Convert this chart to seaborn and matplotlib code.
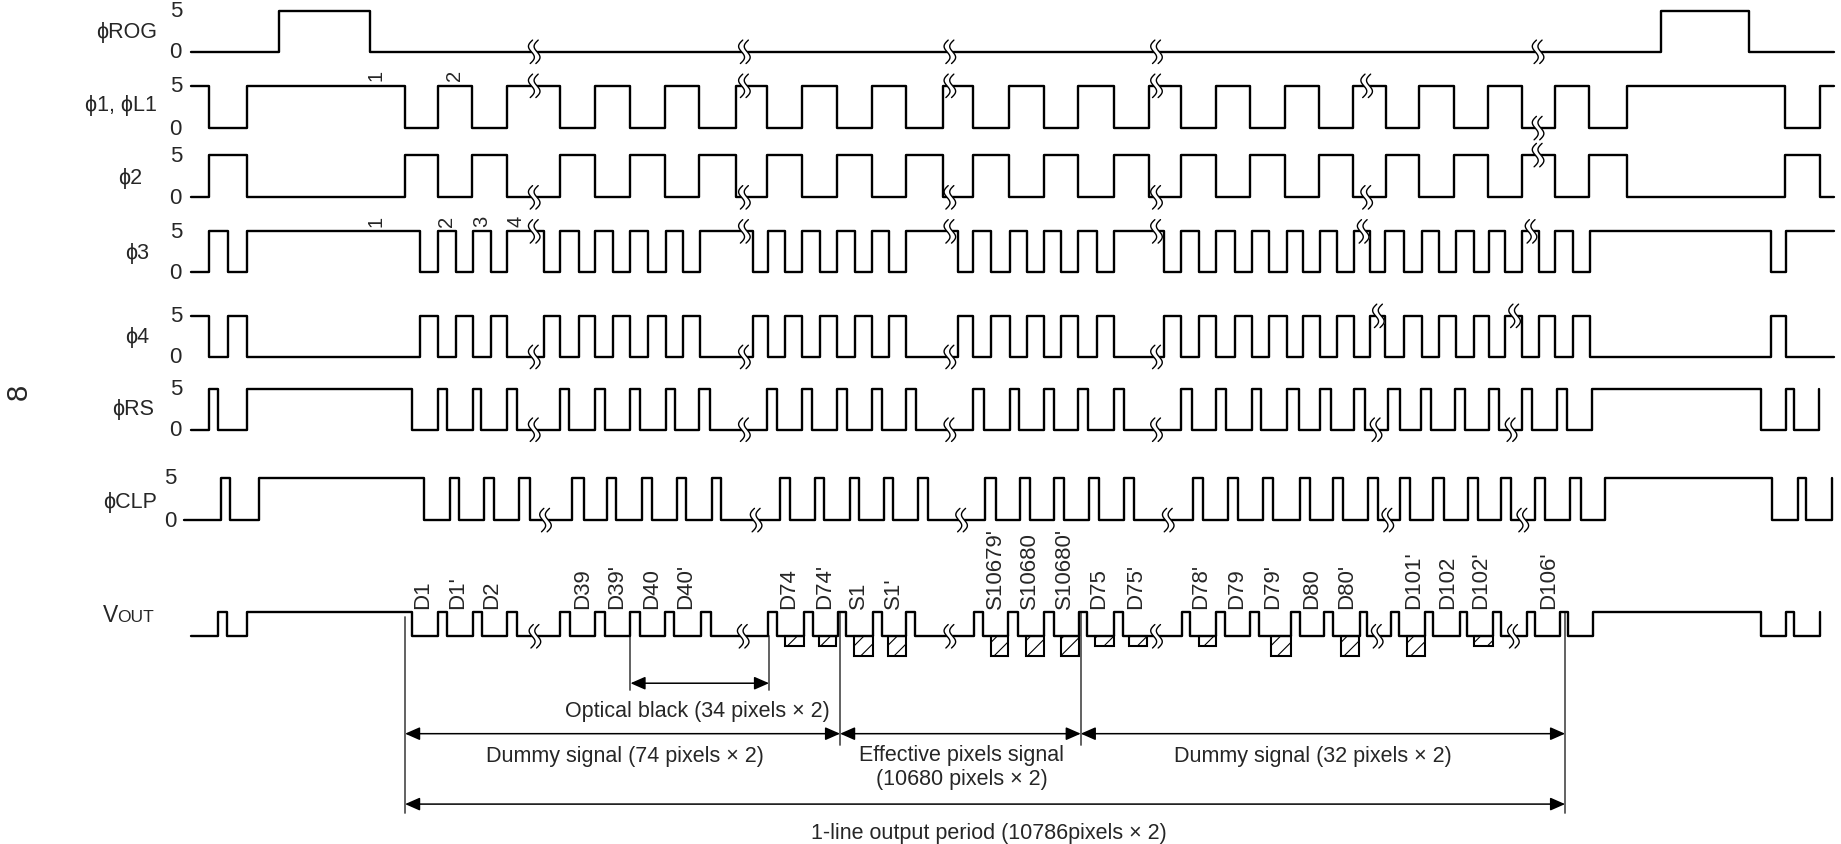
import numpy as np
import pandas as pd
import matplotlib
matplotlib.use("Agg")
import matplotlib.pyplot as plt
from matplotlib.patches import Rectangle
import seaborn as sns

# ---- data: edge times of every signal (time axis in drawing units) ----
PHI = "\u03d5"
signal_names = [PHI + "ROG", PHI + "1, " + PHI + "L1", PHI + "2", PHI + "3",
                PHI + "4", PHI + "RS", PHI + "CLP", "VOUT"]

rog_edges = [238, 315, 1415, 1490]
phi1_edges = [178, 210, 345, 373, 402, 432, 477, 507, 537, 566.6, 595, 626.5,
              653.4, 683.4, 713, 742.6, 772, 803, 829, 859.5, 889, 918.4, 948.7,
              978.3, 1006, 1036, 1065, 1094.4, 1123.7, 1152, 1180.4, 1209, 1238,
              1267.5, 1296.4, 1324, 1353.5, 1386, 1520.6, 1550]
phi3_edges = [178, 194, 210, 358, 373, 388, 403, 418, 432, 463, 477, 493, 507,
              522, 537, 552, 567, 582, 596, 641, 654, 669, 683, 698, 713, 728,
              743, 757, 772, 816, 829, 844, 860, 875, 889, 904, 918, 934, 949,
              991, 1006, 1021, 1036, 1052, 1066, 1081, 1096, 1110, 1124, 1139,
              1153, 1167, 1180, 1196, 1211, 1226, 1240, 1255, 1268, 1282, 1296,
              1311, 1324, 1340, 1354, 1508, 1521]
rs_edges = [178, 186, 210, 351, 373, 380.5, 403, 410, 432, 440, 477, 485, 507,
            515, 537, 545, 567, 575, 595, 605, 653, 662, 683, 692, 713, 721, 743,
            751, 772, 780, 829, 838, 860, 868, 889, 897.5, 918, 927, 949, 957,
            1006, 1015, 1036, 1044, 1066, 1074, 1096, 1106, 1124, 1134, 1153,
            1163, 1182, 1192, 1210, 1219, 1239, 1248, 1268, 1277, 1296, 1305,
            1326, 1335, 1356, 1500, 1521, 1528, 1549.5]
clp_edges = [188, 196, 220.5, 361, 383, 391, 412.5, 421, 442, 451, 487, 497, 517,
             525, 546.5, 555, 577, 584.5, 606, 614, 664, 672.5, 694.5, 702, 724,
             731.5, 753, 761, 782, 790.5, 839, 848, 868.5, 877, 898, 906.5, 927.5,
             936, 957, 965.5, 1016, 1024.5, 1046, 1054, 1076, 1084.5, 1107, 1116,
             1135, 1144, 1165, 1173.5, 1192.5, 1201, 1220.5, 1230, 1250, 1259,
             1278, 1287, 1307, 1316, 1337, 1346.5, 1367, 1509.5, 1531, 1538, 1560]
vout_edges = [186, 193.6, 210.4, 351.2, 373, 380.8, 402.7, 410.1, 432, 440.4,
              476.8, 485.2, 507.1, 515.5, 536.4, 544.8, 566, 574.4, 597, 605.4,
              654, 662, 684.4, 692.2, 713.4, 720.8, 743.7, 751.1, 772, 779.7,
              829.2, 837, 858.8, 867.2, 889.1, 897.5, 918.8, 926.2, 949, 956.5,
              1006.3, 1013.7, 1035.6, 1043.3, 1064.9, 1072.6, 1099.6, 1107.3,
              1127.8, 1135.1, 1158.6, 1164.5, 1185.1, 1191.8, 1213.6, 1220.3,
              1243.8, 1249.7, 1271.2, 1278.2, 1300.6, 1307, 1329, 1335.8, 1356.4,
              1499.5, 1521.5, 1528, 1550.3]

signal_edges = [rog_edges, phi1_edges, phi1_edges, phi3_edges, phi3_edges,
                rs_edges, clp_edges, vout_edges]
start_levels = [0, 1, 0, 0, 1, 0, 0, 0]
t_start = [163, 163, 163, 163, 163, 163, 157, 163]
t_end = [1562, 1562, 1562, 1562, 1562, 1549.5, 1560, 1550.3]

# break marks: (time, level where the mark sits)
signal_breaks = [
    [(455, 0), (634, 0), (809, 0), (985, 0), (1310, 0)],
    [(455, 1), (634, 1), (809, 1), (985, 1), (1164, 1), (1310, 0)],
    [(455, 0), (634, 0), (809, 0), (985, 0), (1164, 0), (1310, 1)],
    [(455, 1), (634, 1), (809, 1), (985, 1), (1161, 1), (1304, 1)],
    [(455, 0), (634, 0), (809, 0), (985, 0), (1174, 1), (1290, 1)],
    [(455, 0), (634, 0), (809, 0), (985, 0), (1172, 0), (1287, 0)],
    [(464.6, 0), (644, 0), (819, 0), (995, 0), (1182, 0), (1297, 0)],
    [(455.6, 0), (633, 0), (809, 0), (985, 0), (1173, 0), (1289, 0)],
]

# output data labels
pixel_labels = ["D1", "D1'", "D2", "D39", "D39'", "D40", "D40'", "D74", "D74'",
                "S1", "S1'", "S10679'", "S10680", "S10680'", "D75", "D75'",
                "D78'", "D79", "D79'", "D80", "D80'", "D101'", "D102", "D102'",
                "D106'"]
pixel_label_t = [360, 390, 419, 496, 525, 555, 584, 672, 702, 731, 761, 848, 877,
                 907, 936, 967, 1023, 1053, 1084, 1117, 1147, 1204, 1233, 1261, 1319]

# hatched signal boxes on VOUT
box_start = [668.6, 697.2, 727.5, 756, 843.7, 874, 903.3, 933, 961.5, 1021,
             1082.7, 1141.9, 1198.3, 1255.6]
box_end = [684.4, 712.4, 743.7, 772, 858.8, 889, 918.8, 949, 976.7, 1035.6,
           1099.6, 1157.2, 1213.6, 1271.2]
box_tall = [0, 0, 1, 1, 1, 1, 1, 0, 0, 0, 1, 1, 1, 0]

# period dimensions
dim_spans = [(537, 655), (345, 715.5), (715.5, 920.5), (920.5, 1333), (345, 1333)]
dim_texts = ["Optical black (34 pixels \u00d7 2)", "Dummy signal (74 pixels \u00d7 2)",
             "Effective pixels signal\n(10680 pixels \u00d7 2)",
             "Dummy signal (32 pixels \u00d7 2)",
             "1-line output period (10786pixels \u00d7 2)"]

# ---- layout ----
hi_y = [10, 74, 133, 198, 270, 332, 408, 522]
lo_y = [45, 110, 169, 233, 305, 367, 444, 543]
name_x = [108, 103, 111, 117, 117, 113, 111]
name_y = [28, 90, 152, 216, 288, 349, 428]
dim_y = [583, 626, 626, 626, 686]
dim_text_xy = [(594, 606), (532, 645), (819, 654), (1118, 645), (842, 710)]
ext_lines = [(345, 527, 694), (537, 543, 589), (655, 543, 589),
             (715.5, 523, 636), (920.5, 523, 636), (1333, 523, 694)]

sns.set_theme(style="white")
plt.rcParams["font.family"] = ["Liberation Sans", "DejaVu Sans"]
plt.rcParams["hatch.linewidth"] = 0.8

fig = plt.figure(figsize=(18.41, 8.45), dpi=100)
ax = fig.add_axes([0, 0, 1, 1])
ax.set_xlim(0, 1568)
ax.set_ylim(720, 0)
ax.axis("off")


def step_path(t0, lv, edges, t1):
    xs, ys = [t0], [lv]
    for e in edges:
        xs += [e, e]
        ys += [lv, 1 - lv]
        lv = 1 - lv
    xs.append(t1)
    ys.append(lv)
    return xs, ys


rows = []
for i, name in enumerate(signal_names):
    xs, ys = step_path(t_start[i], start_levels[i], signal_edges[i], t_end[i])
    for k, (x, lv) in enumerate(zip(xs, ys)):
        rows.append({"signal": name, "order": k, "t": x,
                     "y": lo_y[i] - (lo_y[i] - hi_y[i]) * lv})
waves = pd.DataFrame(rows)

sns.lineplot(data=waves, x="t", y="y", units="signal", estimator=None,
             sort=False, color="black", lw=1.7, ax=ax, zorder=2)


def draw_break(xb, yb):
    s = np.linspace(-1, 1, 40)
    yy = yb + 10 * s
    wig = 3.0 * np.sin(np.pi * s) - 1.0 * s
    left, right = xb - 2.4 + wig, xb + 2.4 + wig
    ax.fill_betweenx(yy, left, right, color="white", zorder=3, lw=0)
    ax.plot(left, yy, color="black", lw=1.0, zorder=4)
    ax.plot(right, yy, color="black", lw=1.0, zorder=4)


for i, brks in enumerate(signal_breaks):
    for tb, lv in brks:
        draw_break(tb, lo_y[i] - (lo_y[i] - hi_y[i]) * lv)

# hatched boxes
for x0, x1, tall in zip(box_start, box_end, box_tall):
    bottom = 560 if tall else 551.5
    ax.add_patch(Rectangle((x0, lo_y[7]), x1 - x0, bottom - lo_y[7],
                           facecolor="white", edgecolor="black", hatch="//",
                           lw=1.5, zorder=1.5))

# signal names and level ticks
fs = 15.5
for i in range(7):
    ax.text(name_x[i], name_y[i], signal_names[i], ha="center", va="center",
            fontsize=fs)
    tx = 150 if i == 6 else 155
    ax.text(tx, hi_y[i], "5", ha="right", va="center", fontsize=fs + 0.5)
    ax.text(tx, lo_y[i], "0", ha="right", va="center", fontsize=fs + 0.5)
ax.text(88, 530, "V", ha="left", va="baseline", fontsize=fs + 1)
ax.text(99.5, 530, "OUT", ha="left", va="baseline", fontsize=12.5)
ax.text(16, 334, "8", rotation=90, ha="center", va="center", fontsize=21)

# clock numbers
for t, s in zip([320, 387], ["1", "2"]):
    ax.text(t, 64, s, rotation=90, ha="center", va="center", fontsize=14.5)
for t, s in zip([320, 380.5, 410, 439.5], ["1", "2", "3", "4"]):
    ax.text(t, 189, s, rotation=90, ha="center", va="center", fontsize=14.5)

# pixel labels
for t, s in zip(pixel_label_t, pixel_labels):
    ax.text(t, 519, s, rotation=90, ha="center", va="bottom", fontsize=fs + 0.5)

# extension lines
for x, y0, y1 in ext_lines:
    ax.plot([x, x], [y0, y1], color="#555555", lw=1.3, zorder=1)

# dimension arrows and texts
for (x0, x1), y, txt, (tx, ty) in zip(dim_spans, dim_y, dim_texts, dim_text_xy):
    ax.annotate("", xy=(x1, y), xytext=(x0, y),
                arrowprops=dict(arrowstyle="<|-|>,head_length=0.5,head_width=0.22",
                                color="black", lw=1.1, shrinkA=0, shrinkB=0,
                                mutation_scale=18))
    ax.text(tx, ty, txt, ha="center", va="center", fontsize=fs, linespacing=1.15)

fig.savefig("out.png", dpi=100)
